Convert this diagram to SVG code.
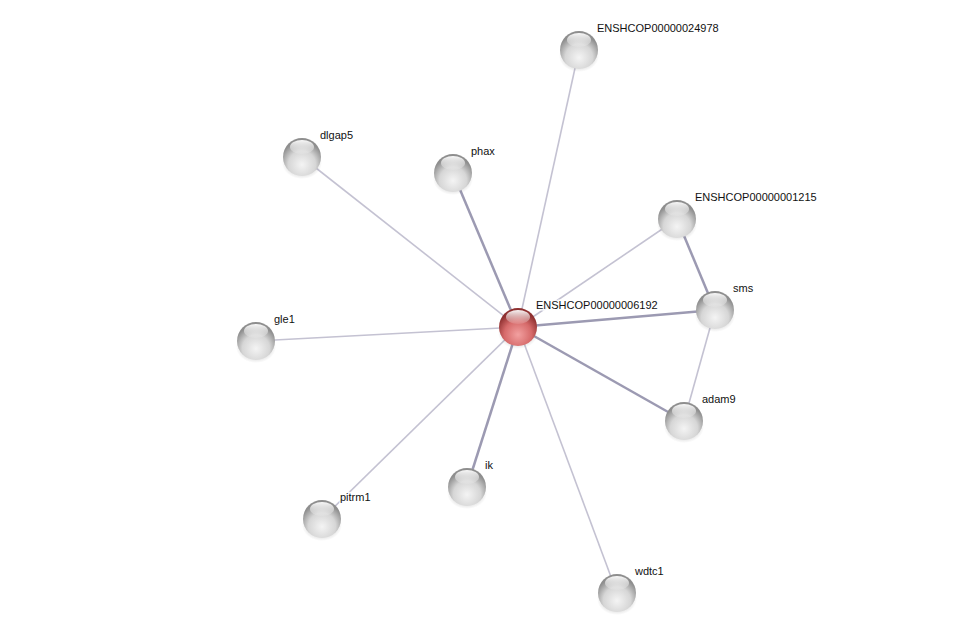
<svg xmlns="http://www.w3.org/2000/svg" width="975" height="638" viewBox="0 0 975 638">
<defs>
<radialGradient id="gw" cx="0.5" cy="0.7" r="0.6">
<stop offset="0" stop-color="#f4f4f4"/>
<stop offset="0.6" stop-color="#d6d6d6"/>
<stop offset="1" stop-color="#8e8e8e"/>
</radialGradient>
<radialGradient id="gr" cx="0.5" cy="0.7" r="0.6">
<stop offset="0" stop-color="#f2a0a0"/>
<stop offset="0.6" stop-color="#d66a6a"/>
<stop offset="1" stop-color="#8e3030"/>
</radialGradient>
<linearGradient id="hl" x1="0" y1="0" x2="0" y2="1">
<stop offset="0" stop-color="#fff" stop-opacity="0.95"/>
<stop offset="1" stop-color="#fff" stop-opacity="0.1"/>
</linearGradient>
<radialGradient id="sh" cx="0.5" cy="0.5" r="0.5">
<stop offset="0" stop-color="#555" stop-opacity="0.6"/>
<stop offset="1" stop-color="#555" stop-opacity="0"/>
</radialGradient>
<g id="ball">
<ellipse cx="0" cy="6" rx="20" ry="16" fill="url(#sh)"/>
<circle r="19" fill="url(#gw)"/>
<ellipse cx="0" cy="-10" rx="12" ry="7" fill="url(#hl)"/>
</g>
<g id="ballr">
<ellipse cx="0" cy="6" rx="20" ry="16" fill="url(#sh)"/>
<circle r="19" fill="url(#gr)"/>
<ellipse cx="0" cy="-10" rx="12" ry="7" fill="url(#hl)"/>
</g>
</defs>
<style>
.e1{stroke:#c4c2d2;stroke-width:1.6;fill:none}
.e2{stroke:#9c9ab2;stroke-width:2.5;fill:none}
text{font-family:"Liberation Sans",Arial,sans-serif;font-size:11px;fill:#111;paint-order:stroke;stroke:#fff;stroke-width:3px;stroke-opacity:0.8}
</style>
<rect width="975" height="638" fill="#fff"/>
<g id="connectors">
<line class="e1" x1="518" y1="327" x2="579" y2="50"/>
<line class="e1" x1="518" y1="327" x2="302" y2="157"/>
<line class="e2" x1="518" y1="327" x2="453" y2="173"/>
<line class="e1" x1="518" y1="327" x2="677" y2="219"/>
<line class="e2" x1="518" y1="327" x2="715" y2="310"/>
<line class="e1" x1="518" y1="327" x2="256" y2="341"/>
<line class="e2" x1="518" y1="327" x2="684" y2="421"/>
<line class="e2" x1="518" y1="327" x2="467" y2="487"/>
<line class="e1" x1="518" y1="327" x2="322" y2="519"/>
<line class="e1" x1="518" y1="327" x2="617" y2="593"/>
<line class="e2" x1="677" y1="219" x2="715" y2="310"/>
<line class="e1" x1="715" y1="310" x2="684" y2="421"/>
</g>
<g id="n24978"><use href="#ball" x="579" y="50"/><text x="597" y="32">ENSHCOP00000024978</text></g>
<g id="dlgap5"><use href="#ball" x="302" y="157"/><text x="320" y="139">dlgap5</text></g>
<g id="phax"><use href="#ball" x="453" y="173"/><text x="471" y="155">phax</text></g>
<g id="n1215"><use href="#ball" x="677" y="219"/><text x="695" y="201">ENSHCOP00000001215</text></g>
<g id="sms"><use href="#ball" x="715" y="310"/><text x="733" y="292">sms</text></g>
<g id="gle1"><use href="#ball" x="256" y="341"/><text x="274" y="323">gle1</text></g>
<g id="adam9"><use href="#ball" x="684" y="421"/><text x="702" y="403">adam9</text></g>
<g id="ik"><use href="#ball" x="467" y="487"/><text x="485" y="469">ik</text></g>
<g id="pitrm1"><use href="#ball" x="322" y="519"/><text x="340" y="501">pitrm1</text></g>
<g id="wdtc1"><use href="#ball" x="617" y="593"/><text x="635" y="575">wdtc1</text></g>
<g id="n6192"><use href="#ballr" x="518" y="327"/><text x="536" y="309">ENSHCOP00000006192</text></g>
</svg>
